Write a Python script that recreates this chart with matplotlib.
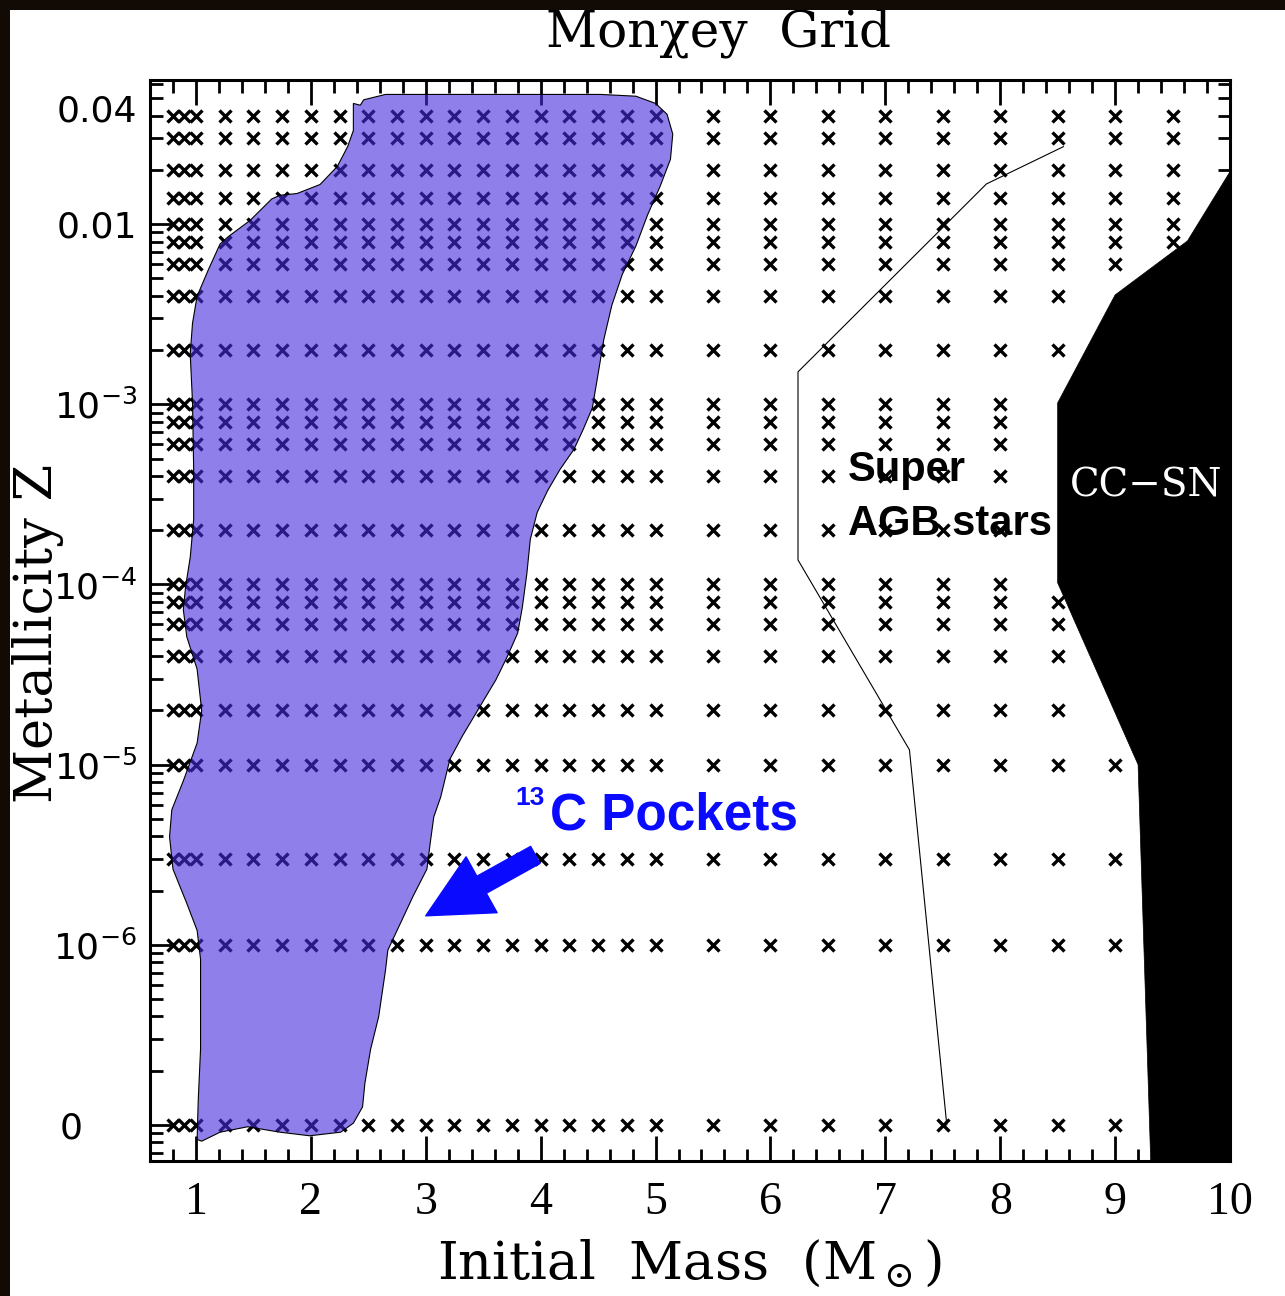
import numpy as np
import matplotlib
matplotlib.use("Agg")
import matplotlib.pyplot as plt
from matplotlib.patches import Polygon, Rectangle
from matplotlib.ticker import FixedLocator, FixedFormatter, MultipleLocator, LogLocator, FuncFormatter
import matplotlib.transforms as mtransforms

plt.rcParams["mathtext.fontset"] = "dejavuserif"

# ---------------------------------------------------------------- model grid
low_masses = [0.8, 0.9, 1.0]
mid_masses = [1.25, 1.5, 1.75, 2.0, 2.25, 2.5, 2.75, 3.0,
              3.25, 3.5, 3.75, 4.0, 4.25, 4.5, 4.75, 5.0]
high_masses = [5.5, 6.0, 6.5, 7.0, 7.5, 8.0, 8.5, 9.0, 9.5]

metallicities = [0.04, 0.03, 0.02, 0.014, 0.01, 0.008, 0.006, 0.004, 0.002,
                 0.001, 8e-4, 6e-4, 4e-4, 2e-4, 1e-4, 8e-5, 6e-5, 4e-5,
                 2e-5, 1e-5, 3e-6, 1e-6, 0.0]
max_mass = [9.5, 9.5, 9.5, 9.5, 9.5, 9.5, 9.0, 8.5, 8.5,
            8.0, 8.0, 8.0, 8.0, 8.0, 8.0, 8.5, 8.5, 8.5,
            8.5, 9.0, 9.0, 9.0, 9.0]

ZERO_Z_AT = 1e-7   # Z = 0 models are shown on the log axis at this level

# 13C-pocket region boundary (mass, log10 Z)
pocket_mass = [2.37, 2.43, 2.46, 2.65, 3.13, 3.82, 4.52, 4.83, 5.00, 5.10, 5.15,
               5.13, 5.04, 4.93, 4.83, 4.71, 4.62, 4.55, 4.49, 4.45, 4.37, 4.29,
               4.17, 4.06, 3.97, 3.91, 3.88, 3.84, 3.80, 3.71, 3.61, 3.46, 3.32,
               3.21, 3.13, 3.07, 3.04, 3.01, 2.89, 2.78, 2.67, 2.65, 2.59, 2.52,
               2.47, 2.45, 2.37, 2.26, 1.99, 1.73, 1.45, 1.21, 1.05, 1.01, 1.02,
               1.04, 1.04, 1.01, 0.92, 0.80, 0.77, 0.79, 0.89, 1.01, 1.05, 1.01,
               0.92, 0.89, 0.91, 0.95, 0.98, 0.98, 0.97, 0.95, 0.97, 1.01, 1.11,
               1.21, 1.28, 1.47, 1.66, 1.73, 1.88, 2.08, 2.23, 2.32, 2.37]
pocket_logz = [-1.33, -1.34, -1.31, -1.28, -1.28, -1.28, -1.28, -1.29, -1.33, -1.39, -1.50,
               -1.64, -1.79, -1.95, -2.12, -2.28, -2.45, -2.64, -2.87, -3.02, -3.14, -3.25,
               -3.36, -3.48, -3.60, -3.75, -3.94, -4.13, -4.27, -4.40, -4.53, -4.69, -4.84,
               -4.97, -5.18, -5.29, -5.43, -5.58, -5.73, -5.88, -6.03, -6.14, -6.40, -6.58,
               -6.77, -6.90, -6.99, -7.04, -7.06, -7.04, -7.01, -7.04, -7.09, -7.08, -6.86,
               -6.58, -6.08, -5.92, -5.77, -5.58, -5.40, -5.25, -5.09, -4.88, -4.70, -4.47,
               -4.29, -4.14, -4.01, -3.85, -3.64, -3.36, -2.99, -2.72, -2.55, -2.40, -2.25,
               -2.11, -2.07, -1.98, -1.86, -1.84, -1.83, -1.78, -1.68, -1.57, -1.48]

# lower edge of the super-AGB regime
sagb_mass = [8.55, 7.88, 6.24, 6.24, 7.21, 7.535]
sagb_logz = [-1.57, -1.777, -2.82, -3.864, -4.918, -7.0]

# core-collapse supernova regime
ccsn_mass = [10.0, 9.63, 9.0, 8.5, 8.5, 9.2, 9.31, 10.0]
ccsn_logz = [-1.709, -2.093, -2.393, -2.992, -3.991, -5.0, -7.2, -7.2]

# ---------------------------------------------------------------- figure
fig = plt.figure(figsize=(12.85, 12.96), dpi=100)
fig.patch.set_facecolor("white")
ax = fig.add_axes([150 / 1285, 1 - 1161 / 1296, 1080 / 1285, 1081 / 1296])

# grid points
all_masses = low_masses + mid_masses + high_masses
gx, gy = [], []
for z, mmax in zip(metallicities, max_mass):
    zp = z if z > 0 else ZERO_Z_AT
    for m in all_masses:
        if m <= mmax + 1e-9:
            gx.append(m)
            gy.append(zp)
ax.plot(gx, gy, ls="none", marker="x", ms=8.5, mew=2.4, color="black", zorder=2)

# 13C pocket region (translucent, so grid points show through)
pocket_xy = np.column_stack([pocket_mass, 10.0 ** np.array(pocket_logz)])
ax.add_patch(Polygon(pocket_xy, closed=True,
                     facecolor=(68 / 255, 42 / 255, 220 / 255, 0.6),
                     edgecolor="black", lw=0.8, zorder=3))

# super-AGB boundary
ax.plot(sagb_mass, 10.0 ** np.array(sagb_logz), color="black", lw=0.8, zorder=3)

# CC-SN region
ccsn_xy = np.column_stack([ccsn_mass, 10.0 ** np.array(ccsn_logz)])
ax.add_patch(Polygon(ccsn_xy, closed=True, facecolor="black",
                     edgecolor="black", lw=0.5, zorder=4))

# ---------------------------------------------------------------- axes
ax.set_xlim(0.6, 10.0)
ax.set_yscale("log")
ax.set_ylim(10 ** -7.2, 10 ** -1.2)

ax.xaxis.set_major_locator(MultipleLocator(1))
ax.xaxis.set_minor_locator(MultipleLocator(0.2))

ytick_vals = [1e-7, 1e-6, 1e-5, 1e-4, 1e-3, 1e-2]
ytick_text = ["0", r"$\mathsf{10^{-6}}$", r"$\mathsf{10^{-5}}$", r"$\mathsf{10^{-4}}$",
              r"$\mathsf{10^{-3}}$", "0.01"]
ax.yaxis.set_major_locator(FixedLocator(ytick_vals))
ax.yaxis.set_major_formatter(FixedFormatter(ytick_text))
ax.yaxis.set_minor_locator(LogLocator(base=10, subs=np.arange(2, 10), numticks=60))
ax.yaxis.set_minor_formatter(
    FuncFormatter(lambda v, p: "0.04" if abs(v - 0.04) < 1e-6 else ""))

ax.tick_params(axis="both", which="both", direction="in", top=True, right=True,
               width=2.0, colors="black")
ax.tick_params(axis="both", which="major", length=18)
ax.tick_params(axis="both", which="minor", length=9)
ax.tick_params(axis="x", which="both", pad=15, labelsize=33)
ax.tick_params(axis="y", which="both", pad=9, labelsize=26)

for lbl in ax.get_xticklabels():
    lbl.set_fontfamily("Liberation Serif")
for lbl in ax.get_yticklabels() + ax.get_yticklabels(minor=True):
    lbl.set_fontfamily("DejaVu Sans")

for sp in ax.spines.values():
    sp.set_linewidth(2.2)
    sp.set_zorder(6)

# ---------------------------------------------------------------- annotations
ax.text(3.78, 10 ** -5.223, "13", color="#0a0aff", fontsize=19,
        fontfamily="Liberation Sans", fontweight="bold", va="baseline", ha="left",
        zorder=5)
ax.text(4.085, 10 ** -5.362, "C Pockets", color="#0a0aff", fontsize=37,
        fontfamily="Liberation Sans", fontweight="bold", va="baseline", ha="left",
        zorder=5)
ax.annotate("", xy=(3.0, 10 ** -5.839), xytext=(3.954, 10 ** -5.501),
            arrowprops=dict(arrowstyle="simple,head_length=1.15,head_width=1.15,tail_width=0.35",
                            mutation_scale=40, color="#0a0aff", shrinkA=0, shrinkB=0),
            zorder=5)

ax.text(6.672, 10 ** -3.425, "Super", color="black", fontsize=30,
        fontfamily="Liberation Sans", fontweight="bold", va="baseline", ha="left",
        zorder=5)
ax.text(6.672, 10 ** -3.725, "AGB stars", color="black", fontsize=30,
        fontfamily="Liberation Sans", fontweight="bold", va="baseline", ha="left",
        zorder=5)

ax.text(9.27, 10 ** -3.514, "CC\u2212SN", color="white", fontsize=28,
        fontfamily="DejaVu Serif", va="baseline", ha="center", zorder=5)

fig.text(718 / 1285, 1 - 47 / 1296, "Mon\u03c7ey  Grid", fontsize=36,
         fontfamily="DejaVu Serif", ha="center", va="baseline")
fig.text(689 / 1285, 1 - 1279 / 1296, r"Initial  Mass  (M$_\odot$)", fontsize=38,
         fontfamily="DejaVu Serif", ha="center", va="baseline")
fig.text(38 / 1285, 1 - 633 / 1296, "Metallicity Z", fontsize=38,
         fontfamily="DejaVu Serif", rotation=90, ha="center", va="center")

# dark frame strips along the top and left edges
fig.add_artist(Rectangle((0, 1 - 10 / 1296), 1, 10 / 1296, transform=fig.transFigure,
                         facecolor="#120a05", edgecolor="none", zorder=10))
fig.add_artist(Rectangle((0, 0), 10 / 1285, 1, transform=fig.transFigure,
                         facecolor="#120a05", edgecolor="none", zorder=10))

# nudge the "0" and "0.04" labels
fig.canvas.draw()
for tick in ax.yaxis.get_major_ticks():
    if tick.label1.get_text() == "0":
        off = mtransforms.ScaledTranslation(-55 / 100, 0, fig.dpi_scale_trans)
        tick.label1.set_transform(tick.label1.get_transform() + off)
for tick in ax.yaxis.get_minor_ticks():
    if tick.label1.get_text() == "0.04":
        off = mtransforms.ScaledTranslation(0, 8 / 100, fig.dpi_scale_trans)
        tick.label1.set_transform(tick.label1.get_transform() + off)

fig.savefig("out.png", dpi=100)
